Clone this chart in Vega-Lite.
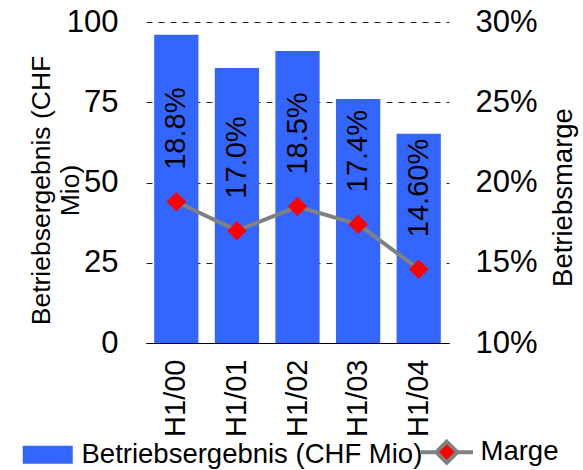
{
  "$schema": "https://vega.github.io/schema/vega-lite/v6.json",
  "width": 303,
  "height": 321,
  "autosize": {"type": "none"},
  "padding": {"left": 146, "top": 22, "right": 134, "bottom": 127},
  "config": {"font": "Liberation Sans", "view": {"stroke": null}},
  "data": {
    "values": [
      {"period": "H1/00", "ergebnis": 96, "marge": 18.8, "label": "18.8%"},
      {"period": "H1/01", "ergebnis": 85.7, "marge": 17.0, "label": "17.0%"},
      {"period": "H1/02", "ergebnis": 91, "marge": 18.5, "label": "18.5%"},
      {"period": "H1/03", "ergebnis": 76, "marge": 17.4, "label": "17.4%"},
      {"period": "H1/04", "ergebnis": 65.2, "marge": 14.6, "label": "14.60%"}
    ]
  },
  "encoding": {
    "x": {
      "field": "period",
      "type": "nominal",
      "sort": null,
      "scale": {"paddingInner": 0.27, "paddingOuter": 0.135},
      "axis": {
        "title": null,
        "labelAngle": -90,
        "labelFontSize": 29,
        "labelPadding": 16,
        "labelColor": "#000",
        "ticks": false,
        "domainColor": "#000",
        "domainWidth": 1.2,
        "grid": false
      }
    }
  },
  "layer": [
    {
      "mark": {"type": "bar"},
      "encoding": {
        "y": {
          "field": "ergebnis",
          "type": "quantitative",
          "scale": {"domain": [0, 100]},
          "axis": {
            "title": ["Betriebsergebnis (CHF", "Mio)"],
            "values": [0, 25, 50, 75, 100],
            "labelFontSize": 31,
            "labelPadding": 28,
            "labelColor": "#000",
            "ticks": false,
            "domain": false,
            "grid": true,
            "gridDash": [6, 6],
            "gridColor": "#222",
            "gridWidth": 1,
            "titleFontSize": 26.5,
            "titleFontWeight": "normal",
            "titleColor": "#000",
            "titleAngle": 270,
            "titleX": -105,
            "titleY": 168,
            "titleAlign": "center",
            "titleBaseline": "middle",
            "titleLineHeight": 29
          }
        },
        "color": {
          "datum": "Betriebsergebnis (CHF Mio)",
          "scale": {
            "domain": ["Betriebsergebnis (CHF Mio)", "Marge"],
            "range": ["#3366FF", "#FF0000"]
          },
          "legend": {
            "orient": "none",
            "legendX": -112,
            "legendY": 416,
            "direction": "horizontal",
            "title": null,
            "labelFontSize": 27.5,
            "labelColor": "#000",
            "labelLimit": 500,
            "symbolSize": 2500,
            "labelOffset": 20,
            "columnPadding": -11,
            "padding": 0,
            "encode": {
              "symbols": {
                "update": {
                  "shape": {"signal": "datum.value === 'Marge' ? 'M-1.05,0H-0.45M0.45,0H1.05M0,-0.42L0.42,0L0,0.42L-0.42,0Z' : 'M-1,-0.36H1V0.36H-1Z'"},
                  "fill": {"signal": "datum.value === 'Marge' ? '#FF0000' : '#3366FF'"},
                  "stroke": {"signal": "datum.value === 'Marge' ? '#808080' : 'transparent'"},
                  "strokeWidth": {"signal": "datum.value === 'Marge' ? 4 : 0"},
                  "opacity": {"value": 1}
                }
              }
            }
          }
        }
      }
    },
    {
      "encoding": {
        "y": {
          "field": "marge",
          "type": "quantitative",
          "scale": {"domain": [10, 30]},
          "axis": {
            "orient": "right",
            "values": [10, 15, 20, 25, 30],
            "labelExpr": "datum.value + '%'",
            "labelFontSize": 31,
            "labelPadding": 26,
            "labelColor": "#000",
            "ticks": false,
            "domain": false,
            "grid": false,
            "title": "Betriebsmarge",
            "titleFontSize": 27.5,
            "titleFontWeight": "normal",
            "titleColor": "#000",
            "titleAngle": 270,
            "titleX": 114,
            "titleY": 175,
            "titleAlign": "center",
            "titleBaseline": "middle"
          }
        }
      },
      "layer": [
        {"mark": {"type": "line", "color": "#808080", "strokeWidth": 4}, "encoding": {}},
        {
          "mark": {"type": "point", "shape": "diamond", "filled": true, "size": 380, "opacity": 1},
          "encoding": {"color": {"datum": "Marge"}}
        },
        {
          "mark": {"type": "text", "angle": 270, "align": "left", "baseline": "middle", "dx": 32, "fontSize": 29, "color": "#000"},
          "encoding": {"text": {"field": "label"}}
        }
      ]
    }
  ],
  "resolve": {"scale": {"y": "independent"}}
}
